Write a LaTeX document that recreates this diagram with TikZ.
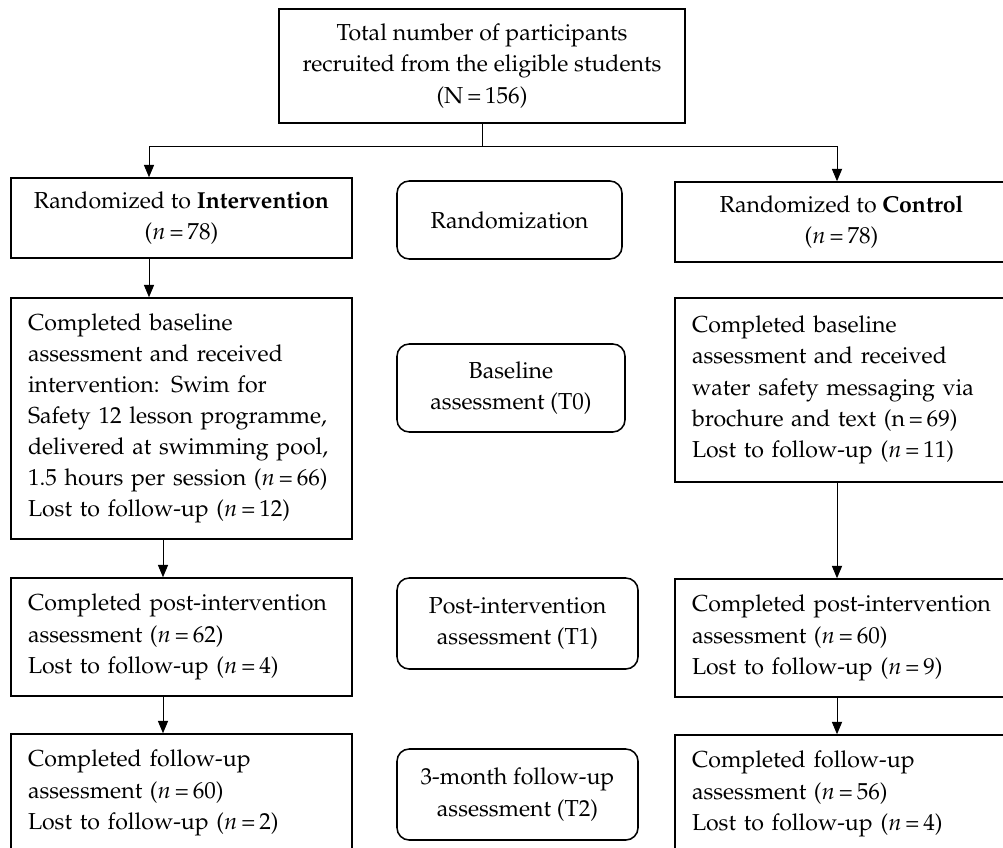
\documentclass[tikz,border=0pt]{standalone}
\usepackage[T1]{fontenc}
\usepackage{mathpazo}
\usepackage{tikz}
\usetikzlibrary{arrows.meta}

\begin{document}
\begin{tikzpicture}[x=0.45pt, y=-0.45pt,
        box/.style={draw, line width=0.7pt, inner sep=0pt, font=\fontsize{10.4}{14}\selectfont},
        midbox/.style={box, align=center},
        phase/.style={box, align=center, rounded corners=5.5pt},
        armL/.style={box, align=left, inner xsep=7.65pt, text width=138.15pt},
        armR/.style={box, align=left, inner xsep=7.65pt, text width=134.55pt},
        link/.style={line width=0.45pt},
        flow/.style={line width=0.45pt, -{Triangle[width=4.6pt, length=5.6pt]}}]
        \useasboundingbox (0,0) rectangle (1003,848);
        \clip (0,0) rectangle (1003,848);

        \node (total)   at (482,66)      [midbox, minimum width=182.7pt, minimum height=51.3pt] {Total number of participants\\recruited from the eligible students\\(N\,=\,156)};

        \node (interv)  at (181.5,218)   [midbox, minimum width=153.45pt, minimum height=36pt] {Randomized to \textbf{Intervention}\\($n$\,=\,78)};
        \node (rand)    at (509.5,220)   [phase, minimum width=101.25pt, minimum height=35.1pt] {Randomization};
        \node (control) at (841.5,222)   [midbox, minimum width=149.85pt, minimum height=36pt] {Randomized to \textbf{Control}\\($n$\,=\,78)};

        \node (baseI)   at (181.5,418.5) [armL, minimum height=108.45pt] {Completed baseline\\assessment and received\\intervention: Swim for\\Safety 12 lesson programme,\\delivered at swimming pool,\\1.5 hours per session ($n$\,=\,66)\\Lost to follow-up ($n$\,=\,12)};
        \node (base)    at (511,388)     [phase, minimum width=102.6pt, minimum height=39.6pt] {Baseline\\assessment (T0)};
        \node (baseC)   at (841.5,390)   [armR, minimum height=82.8pt] {Completed baseline\\assessment and received\\water safety messaging via\\brochure and text (n\,=\,69)\\Lost to follow-up ($n$\,=\,11)};

        \node (postI)   at (181.5,637)   [armL, minimum height=53.1pt] {Completed post-intervention\\assessment ($n$\,=\,62)\\Lost to follow-up ($n$\,=\,4)};
        \node (post)    at (517.5,623.5) [phase, minimum width=108.45pt, minimum height=40.95pt] {Post-intervention\\assessment (T1)};
        \node (postC)   at (841.5,638)   [armR, minimum height=53.1pt] {Completed post-intervention\\assessment ($n$\,=\,60)\\Lost to follow-up ($n$\,=\,9)};

        \node (fuI)     at (181.5,793)   [armL, minimum height=53.1pt] {Completed follow-up\\assessment ($n$\,=\,60)\\Lost to follow-up ($n$\,=\,2)};
        \node (fu)      at (517.5,794.5) [phase, minimum width=108.45pt, minimum height=40.95pt] {3-month follow-up\\assessment (T2)};
        \node (fuC)     at (841.5,794)   [armR, minimum height=53.1pt] {Completed follow-up\\assessment ($n$\,=\,56)\\Lost to follow-up ($n$\,=\,4)};

        \coordinate (split) at (482,147);
        \coordinate (colA)  at (149,0);
        \coordinate (colB)  at (163,0);
        \coordinate (colR)  at (837,0);

        \draw[link] (total.south) -- (split);
        \draw[flow] (split) -| (interv.north -| colA);
        \draw[flow] (split) -| (control.north -| colR);
        \draw[flow] (interv.south -| colA) -- (baseI.north -| colA);
        \draw[flow] (baseI.south -| colB)  -- (postI.north -| colB);
        \draw[flow] (postI.south -| colB)  -- (fuI.north -| colB);
        \draw[flow] (baseC.south -| colR)  -- (postC.north -| colR);
        \draw[flow] (postC.south -| colR)  -- (fuC.north -| colR);
    \end{tikzpicture}
\end{document}
